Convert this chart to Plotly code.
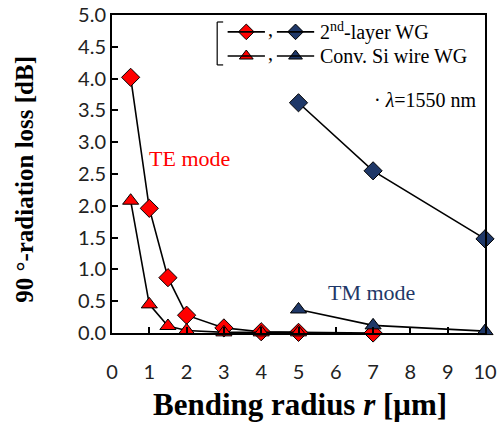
import plotly.graph_objects as go

# Data
te_2nd_x = [0.5, 1, 1.5, 2, 3, 4, 5, 7]
te_2nd_y = [4.02, 1.96, 0.87, 0.28, 0.08, 0.02, 0.01, 0.0]
te_conv_x = [0.5, 1, 1.5, 2, 3, 4, 5]
te_conv_y = [2.08, 0.45, 0.11, 0.04, 0.01, 0.01, 0.01]
tm_2nd_x = [5, 7, 10]
tm_2nd_y = [3.62, 2.55, 1.48]
tm_conv_x = [5, 7, 10]
tm_conv_y = [0.37, 0.12, 0.03]

y_ticks = [0, 0.5, 1, 1.5, 2, 2.5, 3, 3.5, 4, 4.5, 5]
x_ticks = list(range(0, 11))

RED = "#FF0000"
NAVY = "#1F3868"
SERIF = "Liberation Serif"
SANS = "Lato"

fig = go.Figure()

def add(x, y, color, symbol, size):
    fig.add_trace(go.Scatter(
        x=x, y=y, mode="lines+markers",
        line=dict(color="black", width=1.6),
        marker=dict(symbol=symbol, size=size, color=color,
                    line=dict(color="black", width=1)),
        showlegend=False, cliponaxis=False))

add(te_2nd_x, te_2nd_y, RED, "diamond", 14)
add(te_conv_x, te_conv_y, RED, "triangle-up", 14)
add(tm_2nd_x, tm_2nd_y, NAVY, "diamond", 14)
add(tm_conv_x, tm_conv_y, NAVY, "triangle-up", 14)

# Legend (custom, on overlay axis in [0,1] coordinates)
leg_rows = [0.947, 0.871]
leg_cols = [0.360, 0.492]
leg_syms = ["diamond", "triangle-up"]
leg_cols_c = [RED, NAVY]
for r, sym in zip(leg_rows, leg_syms):
    for c, col in zip(leg_cols, leg_cols_c):
        fig.add_shape(type="line", xref="paper", yref="paper",
                      x0=c - 0.05, x1=c + 0.05, y0=r, y1=r,
                      line=dict(color="black", width=1.6))
        fig.add_trace(go.Scatter(
            x=[c], y=[r], xaxis="x2", yaxis="y2", mode="markers",
            marker=dict(symbol=sym, size=12, color=col,
                        line=dict(color="black", width=1)),
            showlegend=False, hoverinfo="skip", cliponaxis=False))
    fig.add_annotation(xref="paper", yref="paper", x=0.426, y=r + 0.008,
                       xanchor="center", yanchor="middle", showarrow=False,
                       text=",", font=dict(family=SERIF, size=20, color="black"))

# bracket
bx = 0.282
fig.add_shape(type="line", xref="paper", yref="paper", x0=bx, x1=bx,
              y0=0.843, y1=0.978, line=dict(color="black", width=1.2))
fig.add_shape(type="line", xref="paper", yref="paper", x0=bx, x1=bx + 0.016,
              y0=0.978, y1=0.978, line=dict(color="black", width=1.2))
fig.add_shape(type="line", xref="paper", yref="paper", x0=bx, x1=bx + 0.016,
              y0=0.843, y1=0.843, line=dict(color="black", width=1.2))

fig.add_annotation(xref="paper", yref="paper", x=0.552, y=leg_rows[0],
                   xanchor="left", yanchor="middle", showarrow=False,
                   text="2<sup>nd</sup>-layer WG",
                   font=dict(family=SERIF, size=20, color="black"))
fig.add_annotation(xref="paper", yref="paper", x=0.552, y=leg_rows[1],
                   xanchor="left", yanchor="middle", showarrow=False,
                   text="Conv. Si wire WG",
                   font=dict(family=SERIF, size=20, color="black"))
fig.add_annotation(xref="paper", yref="paper", x=0.985, y=0.733,
                   xanchor="right", yanchor="middle", showarrow=False,
                   text="· <i>λ</i>=1550 nm",
                   font=dict(family=SERIF, size=20, color="black"))

fig.add_annotation(x=2.09, y=2.74, text="TE mode", showarrow=False,
                   font=dict(family=SERIF, size=22, color=RED))
fig.add_annotation(x=6.97, y=0.63, text="TM mode", showarrow=False,
                   font=dict(family=SERIF, size=22, color=NAVY))

# axis titles
fig.add_annotation(xref="paper", yref="paper", x=0.505, y=-0.226,
                   xanchor="center", yanchor="middle", showarrow=False,
                   text="<b>Bending radius <i>r</i> [μm]</b>",
                   font=dict(family=SERIF, size=31, color="black"))
fig.add_annotation(xref="paper", yref="paper", x=-0.233, y=0.482,
                   xanchor="center", yanchor="middle", showarrow=False,
                   textangle=-90,
                   text="<b>90 °-radiation loss [dB]</b>",
                   font=dict(family=SERIF, size=25, color="black"))

fig.update_layout(
    width=500, height=422,
    margin=dict(l=112, r=15, t=15, b=89, autoexpand=False),
    paper_bgcolor="white", plot_bgcolor="white",
    xaxis=dict(range=[0, 10], tickvals=x_ticks, ticktext=[str(v) for v in x_ticks],
               ticks="inside", ticklen=6, tickcolor="black", tickwidth=1.5,
               showline=True, linecolor="black", linewidth=2, mirror=True,
               showgrid=False, zeroline=False, automargin=False,
               ticklabelstandoff=20,
               tickfont=dict(family=SANS, size=20, color="#222")),
    yaxis=dict(range=[0, 5], tickvals=y_ticks, tickformat=".1f",
               ticksuffix="\u2003",
               ticks="inside", ticklen=6, tickcolor="black", tickwidth=1.5,
               showline=True, linecolor="black", linewidth=2, mirror=True,
               showgrid=False, zeroline=False, automargin=False,
               tickfont=dict(family=SANS, size=20, color="#222")),
    xaxis2=dict(overlaying="x", range=[0, 1], visible=False, automargin=False),
    yaxis2=dict(overlaying="y", range=[0, 1], visible=False, automargin=False),
)

fig.write_html("out.html")
